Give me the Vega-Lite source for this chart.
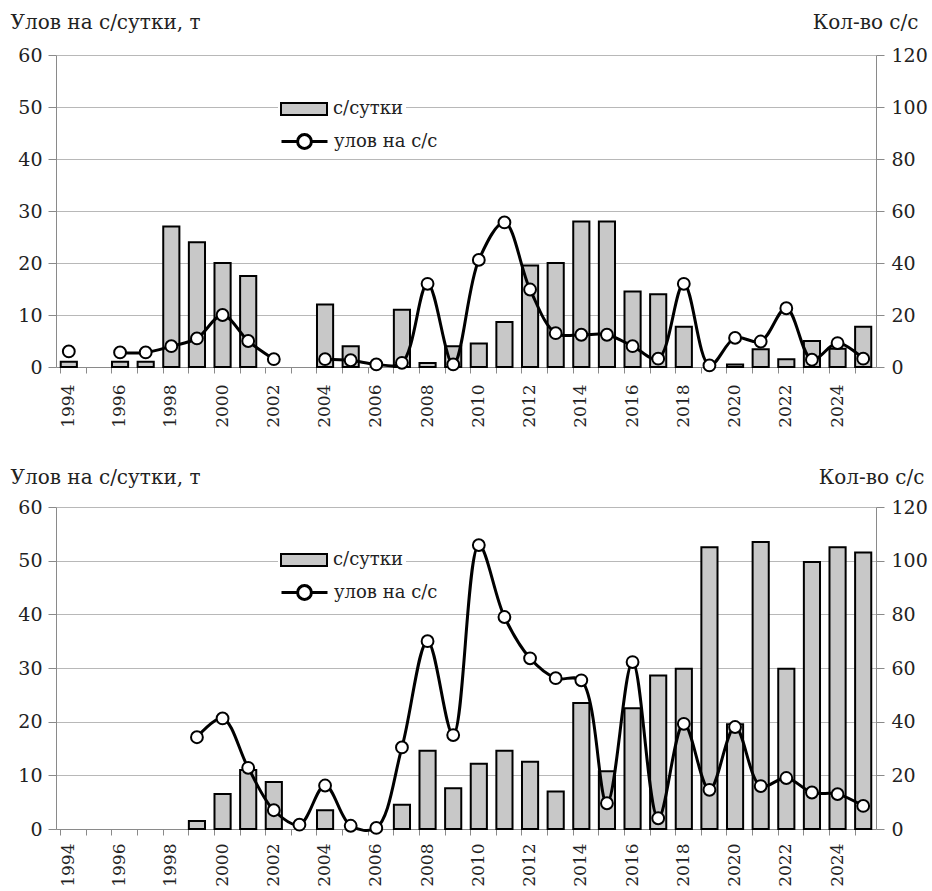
{
  "$schema": "https://vega.github.io/schema/vega-lite/v6.json",
  "background": "white",
  "padding": {"left": 10, "top": 12, "right": 2, "bottom": 0},
  "spacing": 39,
  "config": {
    "font": "DejaVu Serif",
    "view": {"stroke": null},
    "axis": {
      "labelFont": "DejaVu Serif",
      "titleFont": "DejaVu Serif",
      "labelColor": "#222",
      "titleColor": "#222",
      "titleFontWeight": "normal",
      "domainColor": "#8a8a8a",
      "tickColor": "#8a8a8a",
      "gridColor": "#b8b8b8"
    },
    "legend": {"labelFont": "DejaVu Serif", "labelColor": "#222"}
  },
  "datasets": {
    "top": [
      {"year": 1994, "n": 2, "c": 3},
      {"year": 1995, "n": null, "c": null},
      {"year": 1996, "n": 2, "c": 2.8},
      {"year": 1997, "n": 2, "c": 2.8},
      {"year": 1998, "n": 54, "c": 4},
      {"year": 1999, "n": 48, "c": 5.5},
      {"year": 2000, "n": 40, "c": 10},
      {"year": 2001, "n": 35, "c": 5},
      {"year": 2002, "n": null, "c": 1.5},
      {"year": 2003, "n": null, "c": null},
      {"year": 2004, "n": 24, "c": 1.5},
      {"year": 2005, "n": 8, "c": 1.3},
      {"year": 2006, "n": null, "c": 0.5},
      {"year": 2007, "n": 22, "c": 0.8},
      {"year": 2008, "n": 1.5, "c": 16},
      {"year": 2009, "n": 8, "c": 0.5},
      {"year": 2010, "n": 9, "c": 20.6},
      {"year": 2011, "n": 17.3, "c": 27.8},
      {"year": 2012, "n": 39, "c": 14.9},
      {"year": 2013, "n": 40, "c": 6.5},
      {"year": 2014, "n": 56, "c": 6.2},
      {"year": 2015, "n": 56, "c": 6.2},
      {"year": 2016, "n": 29, "c": 4},
      {"year": 2017, "n": 28, "c": 1.6},
      {"year": 2018, "n": 15.5, "c": 16},
      {"year": 2019, "n": null, "c": 0.3},
      {"year": 2020, "n": 1, "c": 5.6},
      {"year": 2021, "n": 6.8, "c": 4.9},
      {"year": 2022, "n": 3, "c": 11.3},
      {"year": 2023, "n": 10, "c": 1.4},
      {"year": 2024, "n": 7, "c": 4.6},
      {"year": 2025, "n": 15.5, "c": 1.6}
    ],
    "bottom": [
      {"year": 1994, "n": null, "c": null},
      {"year": 1995, "n": null, "c": null},
      {"year": 1996, "n": null, "c": null},
      {"year": 1997, "n": null, "c": null},
      {"year": 1998, "n": null, "c": null},
      {"year": 1999, "n": 3, "c": 17.1},
      {"year": 2000, "n": 13, "c": 20.6},
      {"year": 2001, "n": 22, "c": 11.4},
      {"year": 2002, "n": 17.5, "c": 3.5},
      {"year": 2003, "n": null, "c": 0.8},
      {"year": 2004, "n": 7, "c": 8.1},
      {"year": 2005, "n": null, "c": 0.6},
      {"year": 2006, "n": null, "c": 0.2},
      {"year": 2007, "n": 9, "c": 15.2},
      {"year": 2008, "n": 29.2, "c": 35},
      {"year": 2009, "n": 15.2, "c": 17.5},
      {"year": 2010, "n": 24.3, "c": 52.9},
      {"year": 2011, "n": 29.2, "c": 39.5},
      {"year": 2012, "n": 25.1, "c": 31.8},
      {"year": 2013, "n": 14, "c": 28.1},
      {"year": 2014, "n": 47, "c": 27.7},
      {"year": 2015, "n": 21.5, "c": 4.8},
      {"year": 2016, "n": 45, "c": 31.1},
      {"year": 2017, "n": 57.2, "c": 2},
      {"year": 2018, "n": 59.7, "c": 19.6},
      {"year": 2019, "n": 105, "c": 7.3},
      {"year": 2020, "n": 39, "c": 19},
      {"year": 2021, "n": 107, "c": 8},
      {"year": 2022, "n": 59.7, "c": 9.5},
      {"year": 2023, "n": 99.5, "c": 6.8},
      {"year": 2024, "n": 105, "c": 6.5},
      {"year": 2025, "n": 103, "c": 4.3}
    ]
  },
  "resolve": {
    "scale": {"fill": "independent", "stroke": "independent"},
    "legend": {"fill": "independent", "stroke": "independent"}
  },
  "vconcat": [
    {
      "data": {"name": "top"},
      "width": 820,
      "height": 312,
      "resolve": {"scale": {"y": "independent"}},
      "layer": [
        {
          "mark": {"type": "bar", "stroke": "black", "strokeWidth": 2},
          "encoding": {
            "x": {
              "field": "year", "type": "ordinal", "title": null,
              "scale": {"domain": [1994,1995,1996,1997,1998,1999,2000,2001,2002,2003,2004,2005,2006,2007,2008,2009,2010,2011,2012,2013,2014,2015,2016,2017,2018,2019,2020,2021,2022,2023,2024,2025], "paddingInner": 0.37, "paddingOuter": 0.185},
              "axis": {"labelAngle": -90, "labelExpr": "datum.value % 2 == 0 ? datum.label : ''", "bandPosition": 0, "tickSize": 6, "labelPadding": 11, "labelFontSize": 17, "labelAlign": "right", "labelBaseline": "middle"}
            },
            "y": {
              "field": "n", "type": "quantitative",
              "scale": {"domain": [0, 120], "nice": false},
              "axis": {"orient": "right", "values": [0,20,40,60,80,100,120], "grid": false, "tickSize": 8, "labelPadding": 7, "labelFontSize": 19, "title": "Кол-во с/с", "titleAngle": 0, "titleX": 42, "titleY": -33, "titleAlign": "right", "titleBaseline": "middle", "titleFontSize": 20}
            },
            "fill": {
              "datum": "с/сутки", "type": "nominal",
              "scale": {"range": ["#c8c8c8"]},
              "legend": {"orient": "none", "legendX": 222, "legendY": 28, "title": null, "symbolType": "M-1,-0.26H1V0.26H-1Z", "symbolSize": 2116, "symbolStrokeColor": "black", "symbolStrokeWidth": 2, "labelFontSize": 18, "labelOffset": 5, "fillColor": "white", "padding": 2}
            }
          }
        },
        {
          "layer": [
            {
              "mark": {"type": "line", "interpolate": "catmull-rom", "strokeWidth": 3, "invalid": "break-paths-filter-domains"},
              "encoding": {
                "x": {"field": "year", "type": "ordinal", "title": null},
                "y": {
                  "field": "c", "type": "quantitative",
                  "scale": {"domain": [0, 60], "nice": false},
                  "axis": {"orient": "left", "values": [0,10,20,30,40,50,60], "grid": true, "tickSize": 8, "labelPadding": 6, "labelFontSize": 19, "title": "Улов на с/сутки, т", "titleAngle": 0, "titleX": -46, "titleY": -33, "titleAlign": "left", "titleBaseline": "middle", "titleFontSize": 20}
                },
                "stroke": {
                  "datum": "улов на с/с", "type": "nominal",
                  "scale": {"range": ["black"]},
                  "legend": {"orient": "none", "legendX": 222, "legendY": 60, "title": null, "symbolType": "M-1,0H-0.3M0.3,0A0.3,0.3 0 1,1 -0.3,0A0.3,0.3 0 1,1 0.3,0H1", "symbolSize": 2116, "symbolStrokeWidth": 3, "symbolFillColor": "white", "labelFontSize": 18, "labelOffset": 5, "padding": 2}
                }
              }
            },
            {
              "mark": {"type": "point", "filled": true, "fill": "white", "stroke": "black", "strokeWidth": 2, "size": 140, "opacity": 1},
              "encoding": {
                "x": {"field": "year", "type": "ordinal", "title": null},
                "y": {"field": "c", "type": "quantitative"}
              }
            }
          ]
        }
      ]
    },
    {
      "data": {"name": "bottom"},
      "width": 820,
      "height": 322,
      "resolve": {"scale": {"y": "independent"}},
      "layer": [
        {
          "mark": {"type": "bar", "stroke": "black", "strokeWidth": 2},
          "encoding": {
            "x": {
              "field": "year", "type": "ordinal", "title": null,
              "scale": {"domain": [1994,1995,1996,1997,1998,1999,2000,2001,2002,2003,2004,2005,2006,2007,2008,2009,2010,2011,2012,2013,2014,2015,2016,2017,2018,2019,2020,2021,2022,2023,2024,2025], "paddingInner": 0.37, "paddingOuter": 0.185},
              "axis": {"labelAngle": -90, "labelExpr": "datum.value % 2 == 0 ? datum.label : ''", "bandPosition": 0, "tickSize": 6, "labelPadding": 8, "labelFontSize": 17, "labelAlign": "right", "labelBaseline": "middle"}
            },
            "y": {
              "field": "n", "type": "quantitative",
              "scale": {"domain": [0, 120], "nice": false},
              "axis": {"orient": "right", "values": [0,20,40,60,80,100,120], "grid": false, "tickSize": 8, "labelPadding": 7, "labelFontSize": 19, "title": "Кол-во с/с", "titleAngle": 0, "titleX": 48, "titleY": -30, "titleAlign": "right", "titleBaseline": "middle", "titleFontSize": 20}
            },
            "fill": {
              "datum": "с/сутки", "type": "nominal",
              "scale": {"range": ["#c8c8c8"]},
              "legend": {"orient": "none", "legendX": 222, "legendY": 27, "title": null, "symbolType": "M-1,-0.26H1V0.26H-1Z", "symbolSize": 2116, "symbolStrokeColor": "black", "symbolStrokeWidth": 2, "labelFontSize": 18, "labelOffset": 5, "fillColor": "white", "padding": 2}
            }
          }
        },
        {
          "layer": [
            {
              "mark": {"type": "line", "interpolate": "catmull-rom", "strokeWidth": 3, "invalid": "break-paths-filter-domains"},
              "encoding": {
                "x": {"field": "year", "type": "ordinal", "title": null},
                "y": {
                  "field": "c", "type": "quantitative",
                  "scale": {"domain": [0, 60], "nice": false},
                  "axis": {"orient": "left", "values": [0,10,20,30,40,50,60], "grid": true, "tickSize": 8, "labelPadding": 6, "labelFontSize": 19, "title": "Улов на с/сутки, т", "titleAngle": 0, "titleX": -46, "titleY": -30, "titleAlign": "left", "titleBaseline": "middle", "titleFontSize": 20}
                },
                "stroke": {
                  "datum": "улов на с/с", "type": "nominal",
                  "scale": {"range": ["black"]},
                  "legend": {"orient": "none", "legendX": 222, "legendY": 59, "title": null, "symbolType": "M-1,0H-0.3M0.3,0A0.3,0.3 0 1,1 -0.3,0A0.3,0.3 0 1,1 0.3,0H1", "symbolSize": 2116, "symbolStrokeWidth": 3, "symbolFillColor": "white", "labelFontSize": 18, "labelOffset": 5, "padding": 2}
                }
              }
            },
            {
              "mark": {"type": "point", "filled": true, "fill": "white", "stroke": "black", "strokeWidth": 2, "size": 140, "opacity": 1},
              "encoding": {
                "x": {"field": "year", "type": "ordinal", "title": null},
                "y": {"field": "c", "type": "quantitative"}
              }
            }
          ]
        }
      ]
    }
  ]
}
